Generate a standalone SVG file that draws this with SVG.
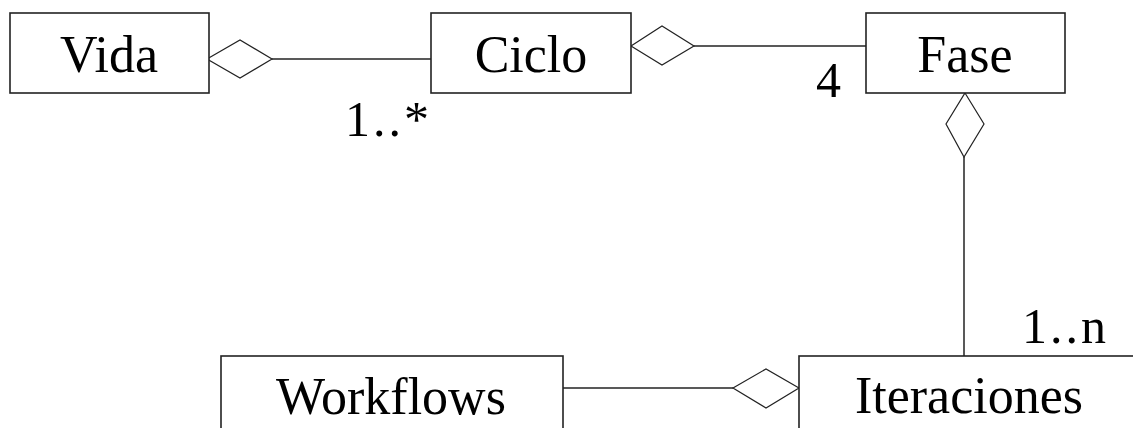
<svg xmlns="http://www.w3.org/2000/svg" width="1133" height="428" viewBox="0 0 1133 428">
<style>
.box{fill:#fff;stroke:#222;stroke-width:1.6}
.ln{fill:none;stroke:#222;stroke-width:1.5}
.dia{fill:#fff;stroke:#222;stroke-width:1.2}
.t{font-family:"Liberation Serif","Times New Roman",serif;font-size:52px;fill:#000;text-anchor:middle}
.m{font-family:"Liberation Serif","Times New Roman",serif;font-size:50px;fill:#000;letter-spacing:3px}
</style>
<rect width="1133" height="428" fill="#fff"/>
<g id="connectors">
<line class="ln" x1="272" y1="59" x2="431" y2="59"/>
<polygon class="dia" points="207,59 240,40 272,59 240,78"/>
<line class="ln" x1="694" y1="46" x2="866" y2="46"/>
<polygon class="dia" points="631,46 662,26 694,46 662,65"/>
<line class="ln" x1="964" y1="157" x2="964" y2="356"/>
<polygon class="dia" points="965,93 984,124 964,157 946,124"/>
<line class="ln" x1="563" y1="388" x2="733" y2="388"/>
<polygon class="dia" points="733,388 766,369 799,388 766,408"/>
<text class="m" x="345" y="136">1..*</text>
<text class="m" x="816" y="97">4</text>
<text class="m" x="1022" y="343">1..n</text>
</g>
<g id="vida">
<rect class="box" x="10" y="13" width="199" height="80"/>
<text class="t" x="109" y="72">Vida</text>
</g>
<g id="ciclo">
<rect class="box" x="431" y="13" width="200" height="80"/>
<text class="t" x="531" y="72">Ciclo</text>
</g>
<g id="fase">
<rect class="box" x="866" y="13" width="199" height="80"/>
<text class="t" x="965" y="72">Fase</text>
</g>
<g id="workflows">
<rect class="box" x="221" y="356" width="342" height="90"/>
<text class="t" x="391" y="414">Workflows</text>
</g>
<g id="iteraciones">
<rect class="box" x="799" y="356" width="360" height="90"/>
<text class="t" x="969" y="413">Iteraciones</text>
</g>
</svg>
